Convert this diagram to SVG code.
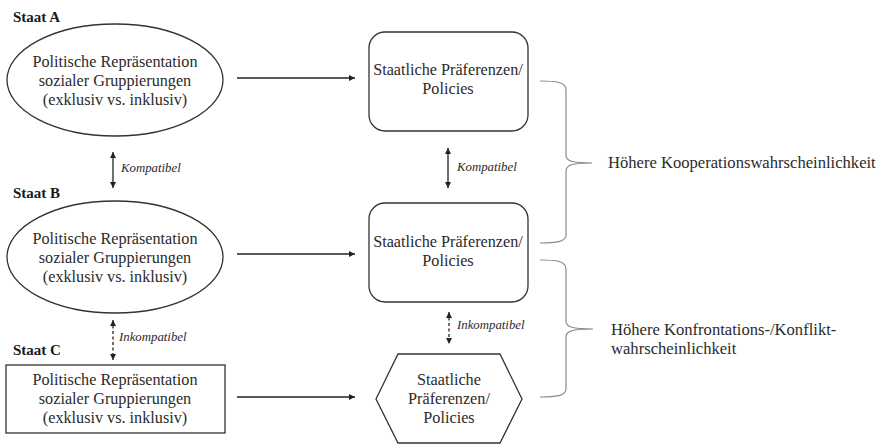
<svg xmlns="http://www.w3.org/2000/svg" width="882" height="448" viewBox="0 0 882 448">
<style>
text{font-family:"Liberation Serif","DejaVu Serif",serif;fill:#2b2b2b}
.t{font-size:16.2px;text-anchor:middle}
.h{font-size:15px;font-weight:bold;fill:#1a1a1a}
.i{font-size:12.8px;font-style:italic}
.r{font-size:16.6px}
.s{fill:#fff;stroke:#333;stroke-width:1.3}
.c{fill:none;stroke:#222;stroke-width:1.3}
.d{fill:none;stroke:#222;stroke-width:1.3;stroke-dasharray:3 2.5}
.b{fill:none;stroke:#8a8a8a;stroke-width:1.2}
</style>
<defs>
<marker id="ah" viewBox="0 0 10 10" refX="10" refY="5" markerWidth="6" markerHeight="6" orient="auto-start-reverse" markerUnits="userSpaceOnUse">
<path d="M0,0 L10,5 L0,10 z" fill="#222"/>
</marker>
</defs>
<rect width="882" height="448" fill="#fff"/>
<g id="staatA-label"><text class="h" x="13" y="22">Staat A</text></g>
<g id="staatB-label"><text class="h" x="13" y="198">Staat B</text></g>
<g id="staatC-label"><text class="h" x="13" y="355">Staat C</text></g>
<g id="reprA">
<ellipse class="s" cx="115" cy="80" rx="108" ry="56"/>
<text class="t" x="115" y="67">Politische Repräsentation</text>
<text class="t" x="115" y="86">sozialer Gruppierungen</text>
<text class="t" x="115" y="105">(exklusiv vs. inklusiv)</text>
</g>
<g id="reprB">
<ellipse class="s" cx="115" cy="257" rx="108" ry="56"/>
<text class="t" x="115" y="244">Politische Repräsentation</text>
<text class="t" x="115" y="263">sozialer Gruppierungen</text>
<text class="t" x="115" y="282">(exklusiv vs. inklusiv)</text>
</g>
<g id="reprC">
<rect class="s" x="6" y="365" width="219" height="68"/>
<text class="t" x="115" y="385">Politische Repräsentation</text>
<text class="t" x="115" y="404">sozialer Gruppierungen</text>
<text class="t" x="115" y="423">(exklusiv vs. inklusiv)</text>
</g>
<g id="prefA">
<rect class="s" x="369" y="32" width="159" height="99" rx="16"/>
<text class="t" x="448" y="75">Staatliche Präferenzen/</text>
<text class="t" x="448" y="94">Policies</text>
</g>
<g id="prefB">
<rect class="s" x="369" y="203" width="159" height="99" rx="16"/>
<text class="t" x="448" y="247">Staatliche Präferenzen/</text>
<text class="t" x="448" y="266">Policies</text>
</g>
<g id="prefC">
<polygon class="s" points="376,399 398,354 500,354 522,399 500,443 398,443"/>
<text class="t" x="449" y="385">Staatliche</text>
<text class="t" x="449" y="404">Präferenzen/</text>
<text class="t" x="449" y="423">Policies</text>
</g>
<g id="outcome-coop">
<text class="r" x="608" y="168">Höhere Kooperationswahrscheinlichkeit</text>
</g>
<g id="outcome-conflict">
<text class="r" x="611" y="335">Höhere Konfrontations-/Konflikt-</text>
<text class="r" x="611" y="354">wahrscheinlichkeit</text>
</g>
<g id="connectors">
<line class="c" x1="237" y1="78" x2="355" y2="78" marker-end="url(#ah)"/>
<line class="c" x1="237" y1="254" x2="355" y2="254" marker-end="url(#ah)"/>
<line class="c" x1="237" y1="397" x2="355" y2="397" marker-end="url(#ah)"/>
<line class="c" x1="113" y1="152" x2="113" y2="188" marker-start="url(#ah)" marker-end="url(#ah)"/>
<text class="i" x="121" y="172">Kompatibel</text>
<line class="d" x1="113" y1="320" x2="113" y2="360" marker-start="url(#ah)" marker-end="url(#ah)"/>
<text class="i" x="119" y="341">Inkompatibel</text>
<line class="c" x1="448" y1="148" x2="448" y2="188" marker-start="url(#ah)" marker-end="url(#ah)"/>
<text class="i" x="457" y="171">Kompatibel</text>
<line class="d" x1="449" y1="312" x2="449" y2="344" marker-start="url(#ah)" marker-end="url(#ah)"/>
<text class="i" x="457" y="329">Inkompatibel</text>
<path class="b" d="M540,81 C556,81 566,82 566,90 L566,155 C566,161 572,163 592,163 C572,163 566,165 566,171 L566,235 C566,242 556,243 540,243"/>
<path class="b" d="M540,260 C556,260 566,261 566,269 L566,321 C566,327 572,329 593,329 C572,329 566,331 566,337 L566,389 C566,396 556,397 540,397"/>
</g>
</svg>
